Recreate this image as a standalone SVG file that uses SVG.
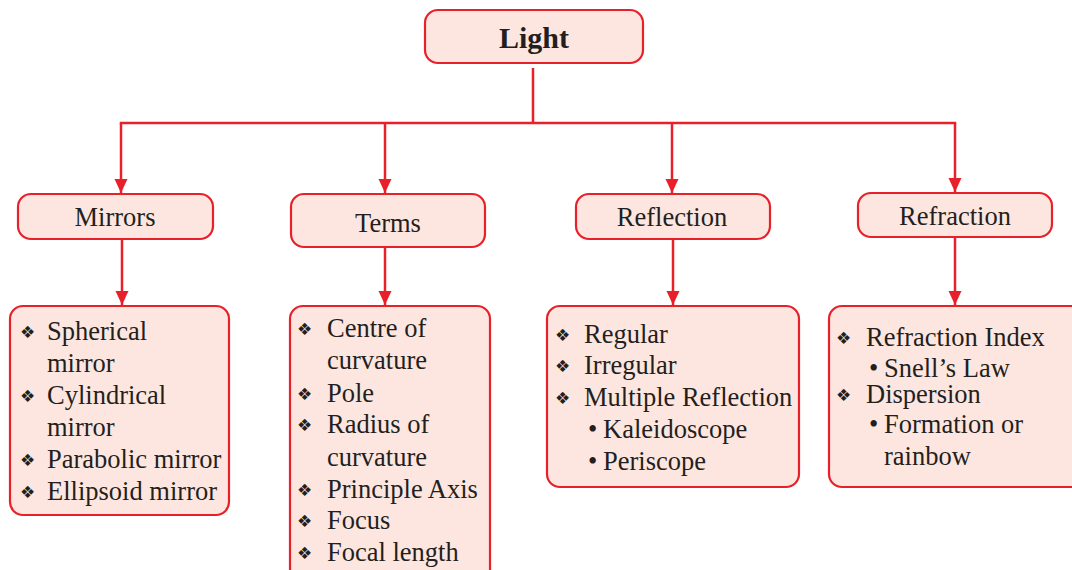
<svg xmlns="http://www.w3.org/2000/svg" width="1072" height="570" viewBox="0 0 1072 570">
  <style>
    .box { fill: #fde6df; stroke: #e8202a; stroke-width: 2.2; }
    .t { font-family: "Liberation Serif", "Times New Roman", serif; font-size: 26.5px; fill: #231f20; }
    .h { text-anchor: middle; }
    .b { font-weight: bold; font-size: 30px; }
    .bul { font-family: "DejaVu Sans", sans-serif; font-size: 17px; fill: #231f20; }
    .con { stroke: #e8202a; stroke-width: 2.5; fill: none; }
  </style>
  <defs>
    <marker id="arr" markerUnits="userSpaceOnUse" markerWidth="14" markerHeight="14" refX="14" refY="6.5" orient="auto">
      <path d="M0,0 L14,6.5 L0,13 z" fill="#e8202a"/>
    </marker>
  </defs>
  <rect width="1072" height="570" fill="#ffffff"/>

  <g id="connectors">
    <path class="con" d="M533,68 V123"/>
    <path class="con" d="M119.8,123 H956.2"/>
    <path class="con" d="M121,123 V193" marker-end="url(#arr)"/>
    <path class="con" d="M385,123 V193" marker-end="url(#arr)"/>
    <path class="con" d="M672,123 V193" marker-end="url(#arr)"/>
    <path class="con" d="M955,123 V192" marker-end="url(#arr)"/>
    <path class="con" d="M122,239 V305" marker-end="url(#arr)"/>
    <path class="con" d="M385,247 V305" marker-end="url(#arr)"/>
    <path class="con" d="M673,239 V305" marker-end="url(#arr)"/>
    <path class="con" d="M955,237 V305" marker-end="url(#arr)"/>
  </g>

  <g id="light">
    <rect class="box" x="425" y="10" width="218" height="53" rx="13"/>
    <text class="t h b" x="534" y="48">Light</text>
  </g>

  <g id="mirrors">
    <rect class="box" x="18" y="194" width="195" height="45" rx="13"/>
    <text class="t h" x="115" y="226">Mirrors</text>
  </g>
  <g id="terms">
    <rect class="box" x="291" y="194" width="194" height="53" rx="13"/>
    <text class="t h" x="388" y="232">Terms</text>
  </g>
  <g id="reflection">
    <rect class="box" x="576" y="194" width="194" height="45" rx="13"/>
    <text class="t h" x="672" y="226">Reflection</text>
  </g>
  <g id="refraction">
    <rect class="box" x="858" y="193" width="194" height="44" rx="13"/>
    <text class="t h" x="955" y="225">Refraction</text>
  </g>

  <g id="mirrors-list">
    <rect class="box" x="10" y="306" width="219" height="209" rx="13"/>
    <text class="bul" x="20" y="338">❖</text>
    <text class="t" x="47" y="340">Spherical</text>
    <text class="t" x="47" y="372">mirror</text>
    <text class="bul" x="20" y="402">❖</text>
    <text class="t" x="47" y="404">Cylindrical</text>
    <text class="t" x="47" y="436">mirror</text>
    <text class="bul" x="20" y="466">❖</text>
    <text class="t" x="47" y="468">Parabolic mirror</text>
    <text class="bul" x="20" y="498">❖</text>
    <text class="t" x="47" y="500">Ellipsoid mirror</text>
  </g>

  <g id="terms-list">
    <rect class="box" x="290" y="306" width="200" height="280" rx="13"/>
    <text class="bul" x="297" y="335">❖</text>
    <text class="t" x="327" y="337">Centre of</text>
    <text class="t" x="327" y="369">curvature</text>
    <text class="bul" x="297" y="400">❖</text>
    <text class="t" x="327" y="402">Pole</text>
    <text class="bul" x="297" y="431">❖</text>
    <text class="t" x="327" y="433">Radius of</text>
    <text class="t" x="327" y="466">curvature</text>
    <text class="bul" x="297" y="496">❖</text>
    <text class="t" x="327" y="498">Principle Axis</text>
    <text class="bul" x="297" y="527">❖</text>
    <text class="t" x="327" y="529">Focus</text>
    <text class="bul" x="297" y="559">❖</text>
    <text class="t" x="327" y="561">Focal length</text>
  </g>

  <g id="reflection-list">
    <rect class="box" x="547" y="306" width="252" height="181" rx="13"/>
    <text class="bul" x="555" y="341">❖</text>
    <text class="t" x="584" y="343">Regular</text>
    <text class="bul" x="555" y="372">❖</text>
    <text class="t" x="584" y="374">Irregular</text>
    <text class="bul" x="555" y="404">❖</text>
    <text class="t" x="584" y="406">Multiple Reflection</text>
    <text class="t" x="588" y="438">•</text>
    <text class="t" x="603" y="438">Kaleidoscope</text>
    <text class="t" x="588" y="470">•</text>
    <text class="t" x="603" y="470">Periscope</text>
  </g>

  <g id="refraction-list">
    <rect class="box" x="829" y="306" width="256" height="181" rx="13"/>
    <text class="bul" x="836" y="344">❖</text>
    <text class="t" x="866" y="346">Refraction Index</text>
    <text class="t" x="869" y="377">•</text>
    <text class="t" x="884" y="377">Snell’s Law</text>
    <text class="bul" x="836" y="401">❖</text>
    <text class="t" x="866" y="403">Dispersion</text>
    <text class="t" x="869" y="433">•</text>
    <text class="t" x="884" y="433">Formation or</text>
    <text class="t" x="884" y="465">rainbow</text>
  </g>
</svg>
